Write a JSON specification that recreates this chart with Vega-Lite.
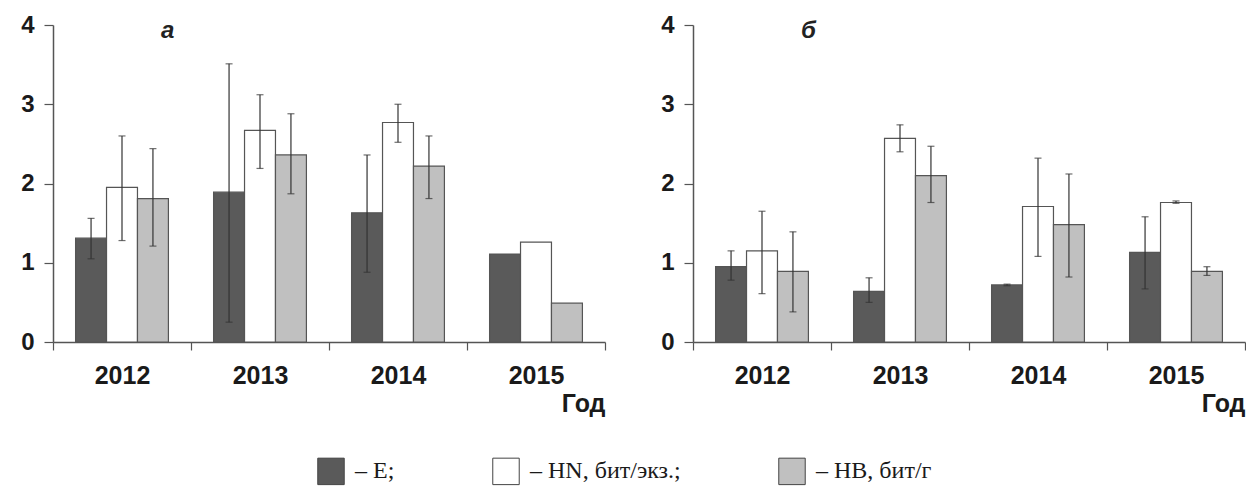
{
  "$schema": "https://vega.github.io/schema/vega-lite/v6.json",
  "padding": {"left": 20, "top": 13, "right": 0, "bottom": 0},
  "background": "white",
  "datasets": {
    "a": [
      {"year": "2012", "var": "E", "value": 1.31, "lo": 1.05, "hi": 1.56},
      {"year": "2012", "var": "HN", "value": 1.95, "lo": 1.28, "hi": 2.6},
      {"year": "2012", "var": "HB", "value": 1.81, "lo": 1.21, "hi": 2.44},
      {"year": "2013", "var": "E", "value": 1.89, "lo": 0.25, "hi": 3.51},
      {"year": "2013", "var": "HN", "value": 2.67, "lo": 2.19, "hi": 3.12},
      {"year": "2013", "var": "HB", "value": 2.36, "lo": 1.87, "hi": 2.88},
      {"year": "2014", "var": "E", "value": 1.63, "lo": 0.88, "hi": 2.36},
      {"year": "2014", "var": "HN", "value": 2.77, "lo": 2.52, "hi": 3.0},
      {"year": "2014", "var": "HB", "value": 2.22, "lo": 1.81, "hi": 2.6},
      {"year": "2015", "var": "E", "value": 1.11, "lo": null, "hi": null},
      {"year": "2015", "var": "HN", "value": 1.26, "lo": null, "hi": null},
      {"year": "2015", "var": "HB", "value": 0.49, "lo": null, "hi": null}
    ],
    "b": [
      {"year": "2012", "var": "E", "value": 0.95, "lo": 0.78, "hi": 1.15},
      {"year": "2012", "var": "HN", "value": 1.15, "lo": 0.61, "hi": 1.65},
      {"year": "2012", "var": "HB", "value": 0.89, "lo": 0.38, "hi": 1.39},
      {"year": "2013", "var": "E", "value": 0.64, "lo": 0.5, "hi": 0.81},
      {"year": "2013", "var": "HN", "value": 2.57, "lo": 2.4, "hi": 2.74},
      {"year": "2013", "var": "HB", "value": 2.1, "lo": 1.76, "hi": 2.47},
      {"year": "2014", "var": "E", "value": 0.72, "lo": 0.71, "hi": 0.73},
      {"year": "2014", "var": "HN", "value": 1.71, "lo": 1.08, "hi": 2.32},
      {"year": "2014", "var": "HB", "value": 1.48, "lo": 0.82, "hi": 2.12},
      {"year": "2015", "var": "E", "value": 1.13, "lo": 0.67, "hi": 1.58},
      {"year": "2015", "var": "HN", "value": 1.76, "lo": 1.75, "hi": 1.78},
      {"year": "2015", "var": "HB", "value": 0.89, "lo": 0.84, "hi": 0.95}
    ]
  },
  "spacing": 54,
  "hconcat": [
    {
      "width": 552,
      "height": 317,
      "data": {"name": "a"},
      "title": {"text": "а"},
      "encoding": {
        "x": {"field": "year", "type": "nominal", "scale": {"paddingInner": 0, "paddingOuter": 0}, "axis": {"title": "Год"}},
        "xOffset": {"field": "var", "type": "nominal", "scale": {"domain": ["E", "HN", "HB"], "paddingInner": 0, "paddingOuter": 0.73}}
      },
      "layer": [
        {
          "mark": {"type": "bar", "stroke": "#555555", "strokeWidth": 1.2},
          "encoding": {
            "y": {"field": "value", "type": "quantitative", "scale": {"domain": [0, 4]}, "axis": {"values": [0, 1, 2, 3, 4], "format": "d", "title": null}},
            "color": {"field": "var", "type": "nominal", "scale": {"domain": ["E", "HN", "HB"], "range": ["#5a5a5a", "#ffffff", "#c0c0c0"]},
              "legend": {"title": null, "labelExpr": "datum.value == 'E' ? '– E;' : datum.value == 'HN' ? '– HN, бит/экз.;' : '– HB, бит/г'"}}
          }
        },
        {
          "transform": [{"filter": "datum.lo != null"}],
          "mark": {"type": "rule", "color": "#333333", "strokeWidth": 1.2},
          "encoding": {"y": {"field": "lo", "type": "quantitative"}, "y2": {"field": "hi"}}
        },
        {
          "transform": [{"filter": "datum.lo != null"}],
          "mark": {"type": "tick", "color": "#333333", "size": 7, "thickness": 1.2},
          "encoding": {"y": {"field": "lo", "type": "quantitative"}}
        },
        {
          "transform": [{"filter": "datum.lo != null"}],
          "mark": {"type": "tick", "color": "#333333", "size": 7, "thickness": 1.2},
          "encoding": {"y": {"field": "hi", "type": "quantitative"}}
        }
      ]
    },
    {
      "width": 552,
      "height": 317,
      "data": {"name": "b"},
      "title": {"text": "б"},
      "encoding": {
        "x": {"field": "year", "type": "nominal", "scale": {"paddingInner": 0, "paddingOuter": 0}, "axis": {"title": "Год"}},
        "xOffset": {"field": "var", "type": "nominal", "scale": {"domain": ["E", "HN", "HB"], "paddingInner": 0, "paddingOuter": 0.73}}
      },
      "layer": [
        {
          "mark": {"type": "bar", "stroke": "#555555", "strokeWidth": 1.2},
          "encoding": {
            "y": {"field": "value", "type": "quantitative", "scale": {"domain": [0, 4]}, "axis": {"values": [0, 1, 2, 3, 4], "format": "d", "title": null}},
            "color": {"field": "var", "type": "nominal", "scale": {"domain": ["E", "HN", "HB"], "range": ["#5a5a5a", "#ffffff", "#c0c0c0"]},
              "legend": {"title": null, "labelExpr": "datum.value == 'E' ? '– E;' : datum.value == 'HN' ? '– HN, бит/экз.;' : '– HB, бит/г'"}}
          }
        },
        {
          "transform": [{"filter": "datum.lo != null"}],
          "mark": {"type": "rule", "color": "#333333", "strokeWidth": 1.2},
          "encoding": {"y": {"field": "lo", "type": "quantitative"}, "y2": {"field": "hi"}}
        },
        {
          "transform": [{"filter": "datum.lo != null"}],
          "mark": {"type": "tick", "color": "#333333", "size": 7, "thickness": 1.2},
          "encoding": {"y": {"field": "lo", "type": "quantitative"}}
        },
        {
          "transform": [{"filter": "datum.lo != null"}],
          "mark": {"type": "tick", "color": "#333333", "size": 7, "thickness": 1.2},
          "encoding": {"y": {"field": "hi", "type": "quantitative"}}
        }
      ]
    }
  ],
  "config": {
    "view": {"stroke": null},
    "font": "Liberation Sans",
    "title": {"anchor": "start", "frame": "group", "dx": 108, "offset": -30, "baseline": "bottom", "fontStyle": "italic", "fontWeight": "bold", "fontSize": 24, "color": "#222222", "font": "Liberation Sans"},
    "axis": {"grid": false, "domainColor": "#555555", "domainWidth": 1.5, "tickColor": "#555555", "tickWidth": 1.2, "labelColor": "#1a1a1a", "labelFont": "Liberation Sans", "labelFontWeight": "bold"},
    "axisX": {"tickBand": "extent", "tickSize": 8, "labelAngle": 0, "labelFontSize": 25, "labelPadding": 13, "titleAnchor": "end", "titleAlign": "right", "titleFontSize": 25, "titleFontWeight": "bold", "titleColor": "#1a1a1a", "titlePadding": 3, "titleFont": "Liberation Sans"},
    "axisY": {"tickSize": 9, "labelFontSize": 24, "labelPadding": 10},
    "legend": {"orient": "none", "legendX": 264, "legendY": 432, "direction": "horizontal", "symbolType": "square", "symbolSize": 700, "symbolStrokeColor": "#444444", "symbolStrokeWidth": 1, "labelFont": "Liberation Serif", "labelFontSize": 24, "labelColor": "#1a1a1a", "labelOffset": 10, "columnPadding": 95}
  }
}
